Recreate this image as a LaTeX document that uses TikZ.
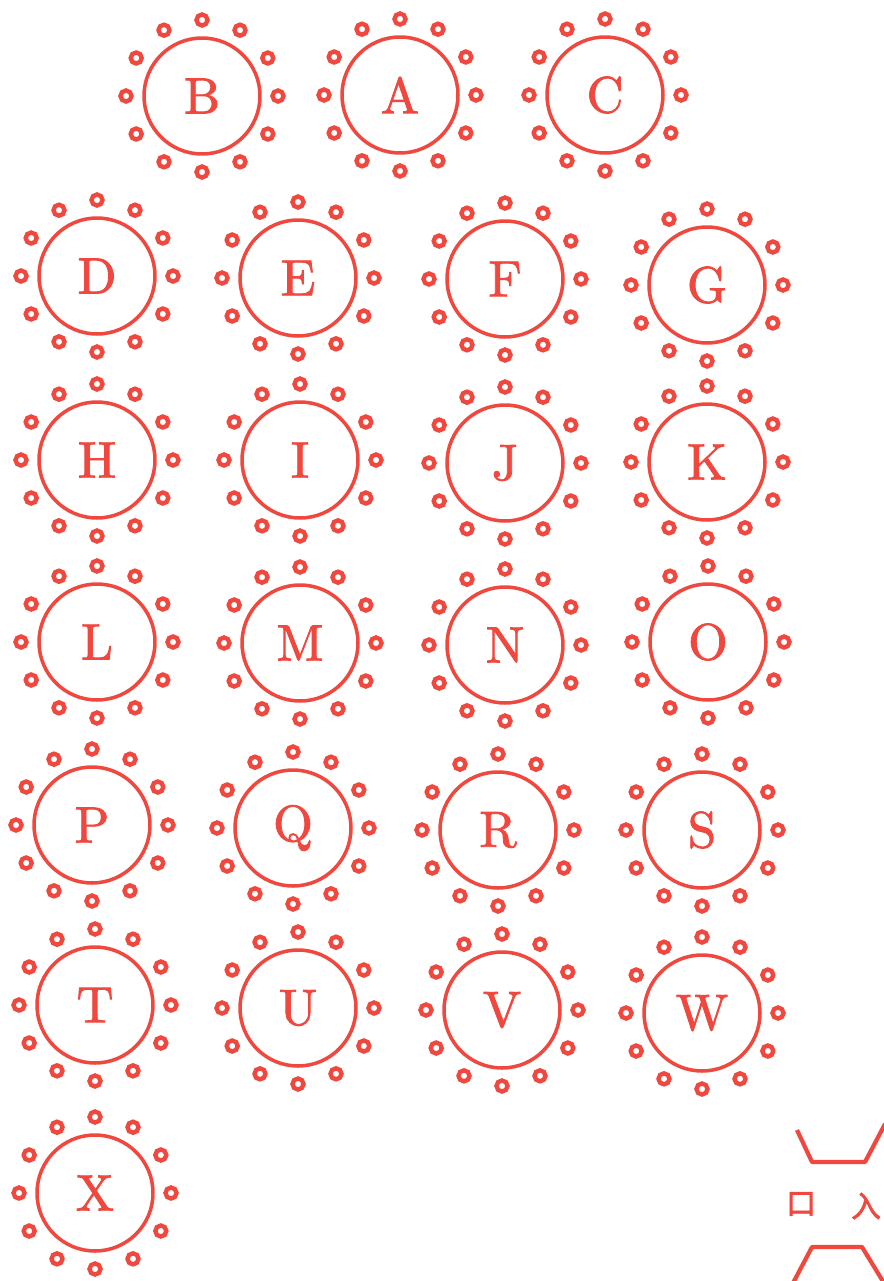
\documentclass[tikz,border=0pt]{standalone}
\usepackage{fontspec}
\usepackage{tikz}
\usetikzlibrary{calc}
\newfontfamily\cjk{Noto Sans CJK SC}[FakeBold=2]
\newfontfamily\stampfont{lmroman10-regular.otf}[FakeBold=1.6]
\definecolor{stampred}{RGB}{240,72,62}
\tikzset{
  ring/.style={circle,draw=stampred,line width=2pt,minimum size=2.32cm,inner sep=0pt,
    text=stampred,font=\stampfont\fontsize{29}{30}\selectfont},
  dot/.style={circle,draw=stampred,line width=2.5pt,minimum size=0.22cm,inner sep=0pt},
  edge/.style={draw=stampred,line width=2.4pt,line join=round},
  glyph/.style={text=stampred,font=\cjk\fontsize{17}{17}\selectfont,inner sep=1pt}
}
\begin{document}
\begin{tikzpicture}[x=0.02cm,y=-0.02cm]
\useasboundingbox (0,0) rectangle (883,1281);
\foreach \n/\x/\y in {B/202/96,A/400/95,C/605/95,
  D/97/276,E/298/278,F/505/279,G/707/285,
  H/97/460,I/300/460,J/505/463,K/707/462,
  L/97/642,M/300/643,N/505/645,O/708/642,
  P/92/825,Q/293/828,R/498/830,S/702/830,
  T/95/1005,U/298/1008,V/502/1010,W/702/1013,
  X/95/1193}{
  \node[ring] (\n) at (\x,\y) {\n};
  \foreach \a in {0,30,...,330} \node[dot] at ($(\n)+(\a:76)$) {};
}
% cut-off marks at the lower right
\coordinate (t1) at (797,1130);
\coordinate (t2) at (812,1162);
\coordinate (t3) at (865,1162);
\coordinate (t4) at (885,1124);
\coordinate (b1) at (793,1283);
\coordinate (b2) at (812,1247);
\coordinate (b3) at (862,1247);
\coordinate (b4) at (884,1283);
\draw[edge] (t1)--(t2)--(t3)--(t4);
\draw[edge] (b1)--(b2)--(b3)--(b4);
\node[glyph] (kou) at (801,1204) {口};
\node[glyph,anchor=east] (ru) at (883,1206) {入};
\end{tikzpicture}
\end{document}
